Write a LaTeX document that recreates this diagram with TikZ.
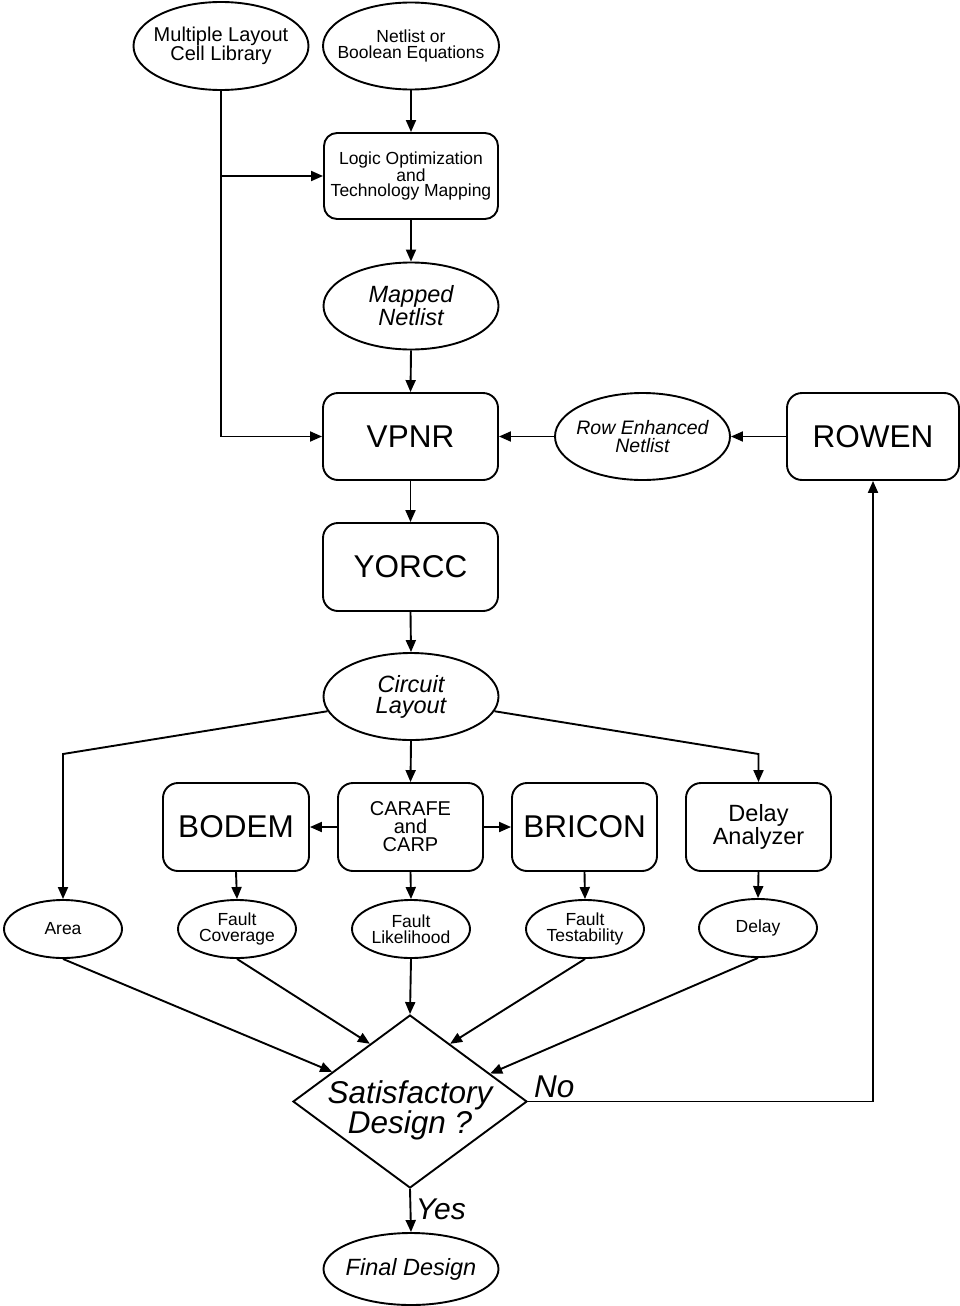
\documentclass[tikz,border=0pt]{standalone}
\usepackage{fontspec}
\setmainfont{Liberation Sans}
\usetikzlibrary{shapes.geometric,arrows.meta,calc}

% font sizes used in the chart
\newcommand\szBig{\fontsize{31.5}{31}\selectfont}
\newcommand\szMid{\fontsize{23.5}{21}\selectfont}
\newcommand\szLib{\fontsize{20}{18}\selectfont}
\newcommand\szRow{\fontsize{19.5}{17.5}\selectfont}
\newcommand\szSmall{\fontsize{17.5}{15.5}\selectfont}

\tikzset{
  line/.style={line width=1.9pt},
  arr/.style={line, -{Triangle[length=12pt,width=10pt]}},
  box/.style={draw, line, rectangle, rounded corners=15pt, align=center,
              inner sep=0pt, minimum width=175pt, minimum height=87pt},
  smallbox/.style={box, minimum width=146pt, minimum height=88pt},
  ell/.style={draw, line, ellipse, align=center, inner xsep=-45pt,
              inner ysep=-25pt, minimum width=175pt, minimum height=87pt},
  smallell/.style={ell, minimum width=118pt, minimum height=58pt, font=\szSmall},
  decision/.style={draw, line, diamond, align=center, inner sep=-60pt,
                   minimum width=234pt, minimum height=173pt},
}

\begin{document}
\begin{tikzpicture}[x=1pt,y=-1pt]
\useasboundingbox (0,0) rectangle (960,1306);

% inputs
\node[ell, minimum height=88pt, font=\szLib] (lib) at (221,46)
  {Multiple Layout\\Cell Library};
\node[ell, minimum width=176pt, minimum height=87pt, font=\szSmall] (net) at (411,46)
  {Netlist or\\Boolean Equations};

% synthesis
\node[box, rounded corners=13pt, minimum width=174pt, minimum height=86pt,
      font=\szSmall] (logic) at (411,176)
  {Logic Optimization\\and\\Technology Mapping};
\node[ell, font=\szMid\itshape] (mapped) at (411,306) {Mapped\\Netlist};

% placement and routing
\node[box, font=\szBig] (vpnr) at (410.5,436.5) {VPNR};
\node[ell, font=\szRow\itshape] (ren) at (642.5,436.5) {Row Enhanced\\Netlist};
\node[box, minimum width=172pt, font=\szBig] (rowen) at (873,436.5) {ROWEN};
\node[box, minimum height=88pt, font=\szBig] (yorcc) at (410.5,567) {YORCC};
\node[ell, font=\szMid\itshape] (circ) at (411,696.5) {Circuit\\Layout};

% analysis tools
\node[smallbox, font=\szBig] (bodem) at (236,827) {BODEM};
\node[smallbox, minimum width=145pt, font=\szLib] (carafe) at (410.5,827)
  {CARAFE\\and\\CARP};
\node[smallbox, minimum width=145pt, font=\szBig] (bricon) at (584.5,827) {BRICON};
\node[smallbox, minimum width=145pt, font=\szMid] (dan) at (758.5,827) {Delay\\Analyzer};

% figures of merit
\node[smallell] (area) at (63,929) {Area};
\node[smallell] (fcov) at (237,929) {Fault\\Coverage};
\node[smallell] (flik) at (411,929) {Fault\\Likelihood};
\node[smallell] (ftest) at (585,929) {Fault\\Testability};
\node[smallell] (delay) at (758,928) {Delay};

% decision and result (the strut lowers the two lines a little)
\node[decision, font=\fontsize{31.5}{28}\selectfont\itshape] (dia) at (410,1101.5)
  {\rule{0pt}{40pt}Satisfactory\\Design ?};
\node[ell, minimum height=72pt, font=\szMid\itshape] (final) at (411,1269) {Final Design};

% connectors: synthesis
\draw[arr] (net.south) -- (logic.north);
\draw[arr] (lib.south) |- (vpnr.west);
\draw[arr] (lib.south |- logic.west) -- (logic.west);
\draw[arr] (logic.south) -- (mapped.north);
\draw[arr] (mapped.south) -- (vpnr.north);

% connectors: layout loop
\draw[arr] (rowen.west) -- (ren.east);
\draw[arr] (ren.west) -- (vpnr.east);
\draw[arr] (vpnr.south) -- (yorcc.north);
\draw[arr] (yorcc.south) -- (circ.north);

% connectors: fan-out of the layout
\coordinate (kneeL) at (63,754);
\coordinate (kneeR) at (758.5,754);
\draw[arr] (circ.190) -- (kneeL) -- (area.north);
\draw[arr] (circ.-10) -- (kneeR) -- (dan.north);
\draw[arr] (circ.south) -- (carafe.north);
\draw[arr] (carafe.west) -- (bodem.east);
\draw[arr] (carafe.east) -- (bricon.west);
\draw[arr] (bodem.south) -- (fcov.north);
\draw[arr] (carafe.south) -- (flik.north);
\draw[arr] (bricon.south) -- (ftest.north);
\draw[arr] (dan.south) -- (delay.north);

% connectors: into the decision
\coordinate (dA) at ($(dia.west)!0.34!(dia.north)$);
\coordinate (dB) at ($(dia.west)!0.66!(dia.north)$);
\coordinate (dC) at ($(dia.east)!0.66!(dia.north)$);
\coordinate (dD) at ($(dia.east)!0.32!(dia.north)$);
\draw[arr] (area.south) -- (dA);
\draw[arr] (fcov.south) -- (dB);
\draw[arr] (flik.south) -- (dia.north);
\draw[arr] (ftest.south) -- (dC);
\draw[arr] (delay.south) -- (dD);

% outcomes
\draw[arr] (dia.south) -- node[right, xshift=1pt, yshift=1pt,
  font=\fontsize{30}{30}\selectfont\itshape] {Yes} (final.north);
\draw[arr] (dia.east) -- (rowen.south |- dia.east) -- (rowen.south);
\node[anchor=base west, inner sep=0pt, font=\szBig\itshape] (nolabel)
  at ([xshift=6pt,yshift=4pt]dia.east) {No};
\end{tikzpicture}
\end{document}
